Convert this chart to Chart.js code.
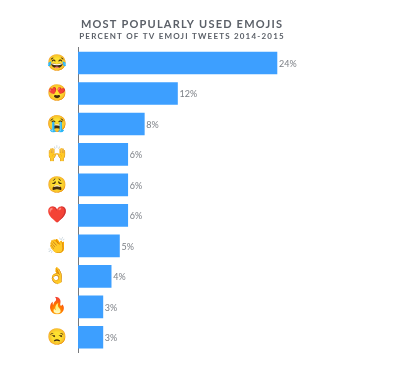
<!DOCTYPE html>
<html><head><meta charset="utf-8">
<style>html,body{margin:0;padding:0;background:#fff}#w{position:relative;width:408px;height:367px}</style>
<script src="https://cdn.jsdelivr.net/npm/chart.js@4/dist/chart.umd.min.js"></script>
</head><body><div id="w"><canvas id="c" width="408" height="367"></canvas></div>
<script>
const categories = ["😂","😍","😭","🙌","😩","❤️","👏","👌","🔥","😒"];
const values = [24,12,8,6,6,6,5,4,3,3];
const titleText = "MOST POPULARLY USED EMOJIS";
const subtitleText = "PERCENT OF TV EMOJI TWEETS 2014-2015";
const textColor = "#5b6068";
const valueLabels = {
  id:"valueLabels",
  afterDatasetsDraw(chart){
    const ctx=chart.ctx, meta=chart.getDatasetMeta(0);
    ctx.save();
    ctx.letterSpacing="0px";
    ctx.font='9px Lato, "Open Sans", sans-serif';
    ctx.fillStyle="#7b7f85";
    ctx.textAlign="left"; ctx.textBaseline="middle";
    meta.data.forEach((b,i)=>ctx.fillText(values[i]+"%",b.x+2,b.y+1));
    ctx.restore();
  }
};
const spacing = {
  id:"spacing",
  beforeDraw(chart){ chart.ctx.letterSpacing="1.2px"; },
  beforeDatasetsDraw(chart){ chart.ctx.letterSpacing="0px"; },
};
new Chart(document.getElementById("c"),{
  type:"bar",
  data:{labels:categories,datasets:[{data:values,backgroundColor:"#3d9fff",barThickness:22,borderWidth:0}]},
  plugins:[spacing,valueLabels],
  options:{
    indexAxis:"y",responsive:false,animation:false,
    layout:{padding:{top:18,bottom:14.5,left:0,right:44}},
    plugins:{legend:{display:false},tooltip:{enabled:false},
      title:{display:true,text:titleText,color:textColor,font:{size:11,weight:"bold",family:'Lato,"Open Sans",sans-serif'},padding:0},
      subtitle:{display:true,text:subtitleText,color:textColor,font:{size:8,weight:"bold",family:'Lato,"Open Sans",sans-serif'},padding:{top:0,bottom:7}}
    },
    scales:{
      x:{min:0,max:34.5,display:false,afterFit(s){s.height=0}},
      y:{
        grid:{display:false,drawTicks:false},
        border:{display:true,color:"#77797c",width:1},
        ticks:{color:"#e0a020",font:{size:16,family:'"Noto Color Emoji","Noto Sans",sans-serif'},padding:10,autoSkip:false},
        afterFit(s){s.width=78;s.paddingTop=0;s.paddingBottom=0}
      }
    }
  }
});
</script></body></html>
